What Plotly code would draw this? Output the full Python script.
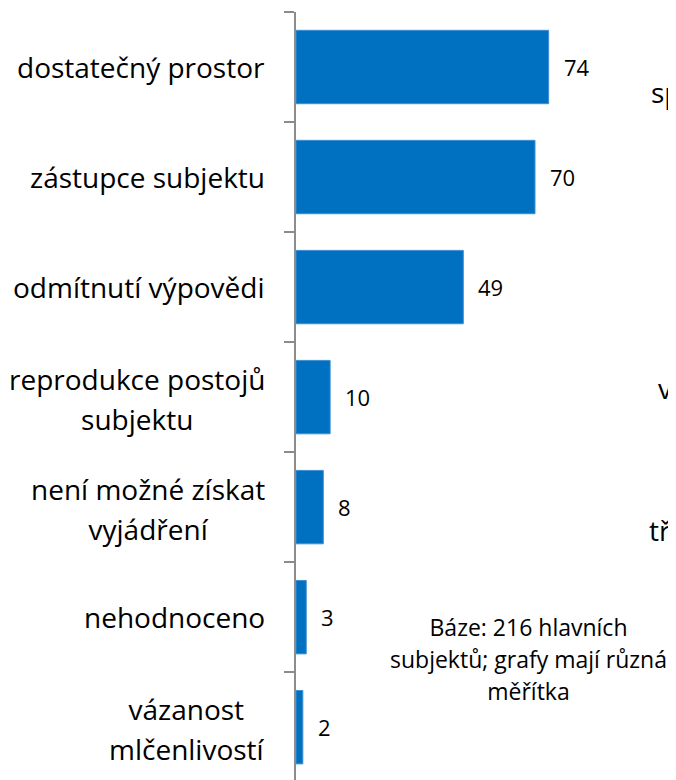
import plotly.graph_objects as go

# ---- data ----
categories = [
    "dostatečný prostor",
    "zástupce subjektu",
    "odmítnutí výpovědi",
    "reprodukce postojů\nsubjektu",
    "není možné získat\nvyjádření",
    "nehodnoceno",
    "vázanost\nmlčenlivostí",
]
values = [74, 70, 49, 10, 8, 3, 2]
note_lines = ["Báze: 216 hlavních", "subjektů; grafy mají různá", "měřítka"]
neighbour_fragments = ["sp", "vy", "tře"]

# ---- style ----
FONT = "Open Sans"
BLUE = "#0070C0"
AXIS_GREY = "#8c8c8c"


def span(t, size):
    return f"<span style='font-size:{size}px'>{t}</span>"


fig = go.Figure(
    go.Bar(
        x=values,
        y=categories,
        orientation="h",
        marker=dict(color=BLUE, line=dict(color="#3f8fd4", width=1)),
        hoverinfo="skip",
    )
)

# category labels (centre-aligned lines, block right-aligned to the axis)
for c in categories:
    n_lines = len(c.split("\n"))
    fig.add_annotation(
        xref="paper", x=0, y=c, xshift=-29, yshift=(-2 if n_lines > 1 else 0),
        text="<br>".join(span(l, 28) for l in c.split("\n")),
        align="center", xanchor="right", yanchor="middle", showarrow=False,
        font=dict(family=FONT, size=31, color="#000000"),
    )

# value labels
for v, c in zip(values, categories):
    fig.add_annotation(
        x=v, y=c, text=str(v), xanchor="left", yanchor="middle", xshift=13,
        showarrow=False, font=dict(family=FONT, size=22, color="#000000"),
    )

# base note
fig.add_annotation(
    xref="paper", yref="paper", x=0.613, y=0.158,
    text="<br>".join(span(l, 23) for l in note_lines),
    align="center", xanchor="center", yanchor="middle", showarrow=False,
    font=dict(family=FONT, size=24.5, color="#000000"),
)

# fragments of the neighbouring chart (cut off at the right edge)
frag_pos = [(0.928, 0.896), (0.948, 0.510), (0.923, 0.3255)]
for t, (fx, fy) in zip(neighbour_fragments, frag_pos):
    fig.add_annotation(
        xref="paper", yref="paper", x=fx, y=fy, text=t,
        xanchor="left", yanchor="middle", showarrow=False,
        font=dict(family=FONT, size=28, color="#000000"),
    )

fig.update_layout(
    width=668, height=772,
    margin=dict(l=288, r=0, t=4, b=0),
    paper_bgcolor="white", plot_bgcolor="white",
    bargap=0.333, showlegend=False,
    font=dict(family=FONT, color="#000000"),
    xaxis=dict(visible=False, range=[0, 111.3], fixedrange=True),
    yaxis=dict(
        type="category",
        categoryorder="array", categoryarray=categories,
        range=[6.48, -0.5],
        tickson="boundaries",
        ticks="outside", ticklen=10, tickwidth=1.5, tickcolor=AXIS_GREY,
        showticklabels=False,
        showline=True, linecolor=AXIS_GREY, linewidth=1.5,
        showgrid=False, zeroline=False,
        automargin=False,
    ),
)

fig.write_html("out.html")
